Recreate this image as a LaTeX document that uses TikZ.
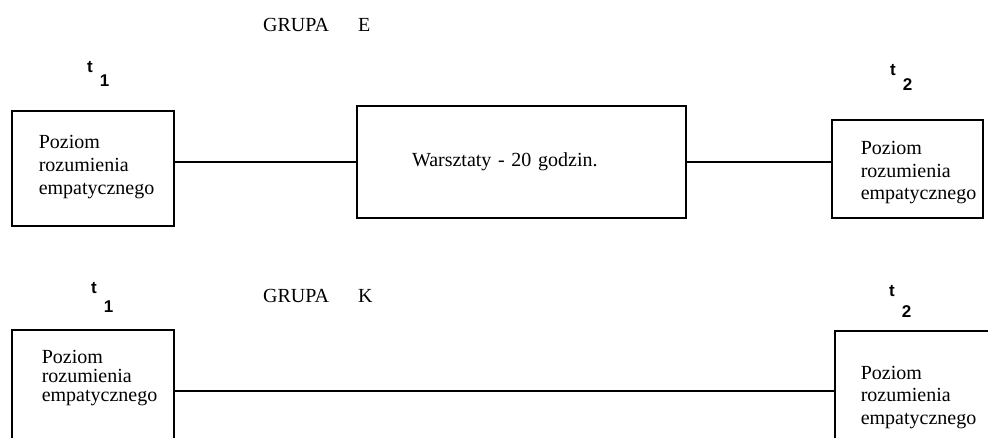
\documentclass[tikz,border=0pt]{standalone}
\usepackage{fontspec}
\setmainfont{Liberation Serif}
\setsansfont{Liberation Sans}

% t with its lowered index
\newcommand{\tpoint}[2]{t\kern7pt\raisebox{-#2pt}{#1}}

\begin{document}
\begin{tikzpicture}[x=1pt, y=-1pt,
  box/.style={draw, line width=2.9pt, inner sep=0pt},
  boxtext/.style={anchor=north west, align=left, inner sep=0pt, font=\fontsize{20}{23}\selectfont},
  tmark/.style={anchor=base west, inner sep=0pt, font=\sffamily\bfseries\fontsize{17}{17}\selectfont},
  grupa/.style={anchor=base west, inner sep=0pt, font=\fontsize{20}{20}\selectfont},
  link/.style={line width=2.9pt}]
\useasboundingbox (0,0) rectangle (988,437);
\clip (0,0) rectangle (988,437);
%
% group E
\draw (263,31) node[grupa] (grupaE) {GRUPA\hspace{29pt}E};
\draw (87,72) node[tmark] (Et1) {\tpoint{1}{14}};
\draw (890,75) node[tmark] (Et2) {\tpoint{2}{15}};
%
\draw (93,168.5) node[box, minimum width=162, minimum height=115] (E1) {};
\draw ([shift={(28,26)}]E1.north west) node[boxtext] (E1txt) {Poziom\\rozumienia\\empatycznego};
%
\draw (521.5,162) node[box, minimum width=329, minimum height=112, inner xsep=55, text width=219, align=left, font=\fontsize{20}{23}\selectfont] (EW) {Warsztaty - 20 godzin.};
%
\draw (907.5,169) node[box, minimum width=151, minimum height=98] (E2) {};
\draw ([shift={(30,23)}]E2.north west) node[boxtext, font=\fontsize{20}{22.5}\selectfont] (E2txt) {Poziom\\rozumienia\\empatycznego};
%
\path[draw, link] (EW.west) -- (EW.west -| E1.east);
\path[draw, link] (EW.east) -- (EW.east -| E2.west);
%
% group K
\draw (263,302) node[grupa] (grupaK) {GRUPA\hspace{29pt}K};
\draw (91,293) node[tmark] (Kt1) {\tpoint{1}{19}};
\draw (889,296) node[tmark] (Kt2) {\tpoint{2}{21}};
%
\draw (93,391) node[box, minimum width=162, minimum height=122] (K1) {};
\draw ([shift={(31,22)}]K1.north west) node[boxtext, font=\fontsize{20}{19}\selectfont] (K1txt) {Poziom\\rozumienia\\empatycznego};
%
\draw (943,391) node[box, minimum width=216, minimum height=120] (K2) {};
\draw ([shift={(27,36)}]K2.north west) node[boxtext, font=\fontsize{20}{22.5}\selectfont] (K2txt) {Poziom\\rozumienia\\empatycznego};
%
\path[draw, link] (K1) -- (K2);
\end{tikzpicture}
\end{document}
